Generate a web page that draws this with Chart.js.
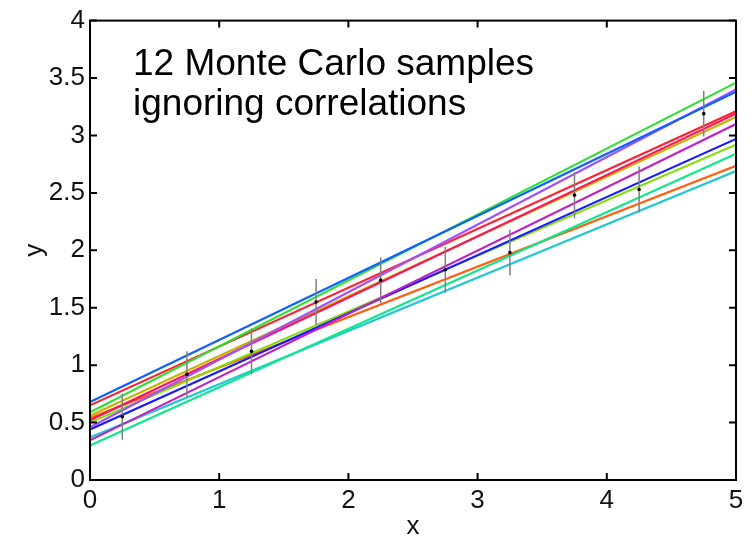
<!DOCTYPE html>
<html>
<head>
<meta charset="utf-8">
<script src="https://cdn.jsdelivr.net/npm/chart.js@4.4.1/dist/chart.umd.min.js"></script>
<style>
  html, body { margin: 0; padding: 0; background: #fff; }
  #wrap { width: 753px; height: 540px; }
</style>
</head>
<body>
<div id="wrap"><canvas id="mcChart"></canvas></div>
<script>
// values
const xTicks = [0, 1, 2, 3, 4, 5];
const yTicks = [0, 0.5, 1, 1.5, 2, 2.5, 3, 3.5, 4];
const lineX = [0, 5];
const sampleStart = [0.68, 0.59, 0.46, 0.65, 0.52, 0.56, 0.345, 0.44, 0.50, 0.30, 0.54, 0.37];
const sampleEnd   = [3.38, 3.46, 3.40, 3.21, 3.19, 3.16, 3.10, 2.97, 2.92, 2.84, 2.735, 2.69];
const sampleColors = ['#1060ff', '#30e030', '#a050ff', '#ff2030', '#ff1060', '#c8b400',
                      '#c020c8', '#1a1aff', '#80e000', '#10e890', '#ff6010', '#20c8d0'];
const pointX   = [0.25, 0.75, 1.25, 1.75, 2.25, 2.75, 3.25, 3.75, 4.25, 4.75];
const pointY   = [0.55, 0.92, 1.12, 1.55, 1.74, 1.83, 1.98, 2.48, 2.53, 3.19];
const pointErr = [0.2, 0.2, 0.2, 0.2, 0.2, 0.2, 0.2, 0.2, 0.2, 0.2];
const noteLines = ['12 Monte Carlo samples', 'ignoring correlations'];

const FONT = '"Liberation Sans", Arial, Helvetica, sans-serif';

// error bars as one broken line: low, high, gap
const errData = [];
pointX.forEach((x, i) => {
  errData.push({ x: x, y: pointY[i] - pointErr[i] });
  errData.push({ x: x, y: pointY[i] + pointErr[i] });
  errData.push({ x: x, y: null });
});

const datasets = [
  {
    data: pointX.map((x, i) => ({ x: x, y: pointY[i] })),
    showLine: false,
    pointRadius: 1.8,
    pointBackgroundColor: '#000',
    pointBorderWidth: 0
  },
  {
    data: errData,
    showLine: true,
    spanGaps: false,
    borderColor: '#808080',
    borderWidth: 1.5,
    pointRadius: 0
  }
];
sampleStart.forEach((s, i) => {
  datasets.push({
    data: [{ x: lineX[0], y: s }, { x: lineX[1], y: sampleEnd[i] }],
    showLine: true,
    borderColor: sampleColors[i],
    borderWidth: 2.2,
    pointRadius: 0
  });
});

// box round the plot with inward ticks on all sides, plus the note
const frame = {
  id: 'frame',
  afterDatasetsDraw(chart) {
    const { ctx, chartArea: a, scales: { x, y } } = chart;
    ctx.save();
    ctx.strokeStyle = '#000';
    ctx.lineWidth = 2;
    ctx.strokeRect(a.left, a.top, a.right - a.left, a.bottom - a.top);
    ctx.beginPath();
    x.ticks.forEach(t => {
      const px = x.getPixelForValue(t.value);
      ctx.moveTo(px, a.bottom); ctx.lineTo(px, a.bottom - 7);
      ctx.moveTo(px, a.top); ctx.lineTo(px, a.top + 7);
    });
    y.ticks.forEach(t => {
      const py = y.getPixelForValue(t.value);
      ctx.moveTo(a.left, py); ctx.lineTo(a.left + 7, py);
      ctx.moveTo(a.right, py); ctx.lineTo(a.right - 7, py);
    });
    ctx.stroke();

    ctx.fillStyle = '#000';
    ctx.font = '37px ' + FONT;
    ctx.textAlign = 'left';
    ctx.textBaseline = 'alphabetic';
    ctx.fillText(noteLines[0], 133, 75);
    ctx.fillText(noteLines[1], 133, 115);
    ctx.restore();
  }
};

new Chart(document.getElementById('mcChart'), {
  type: 'scatter',
  data: { datasets: datasets },
  options: {
    responsive: true,
    maintainAspectRatio: false,
    animation: false,
    layout: { padding: { left: 0, right: 17, top: 16, bottom: 0 } },
    plugins: { legend: { display: false }, tooltip: { enabled: false } },
    scales: {
      x: {
        type: 'linear',
        min: 0,
        max: 5,
        afterBuildTicks: s => { s.ticks = xTicks.map(v => ({ value: v })); },
        afterFit: s => { s.height = 60; },
        grid: { display: false, drawTicks: false },
        border: { display: false },
        ticks: { color: '#111', padding: 5, font: { family: FONT, size: 26 },
                 callback: v => String(v) },
        title: { display: true, text: 'x', color: '#111', padding: 0,
                 font: { family: FONT, size: 26, lineHeight: 1 } }
      },
      y: {
        type: 'linear',
        min: 0,
        max: 4,
        afterBuildTicks: s => { s.ticks = yTicks.map(v => ({ value: v })); },
        afterFit: s => { s.width = 90; },
        grid: { display: false, drawTicks: false },
        border: { display: false },
        ticks: { color: '#111', padding: 5, font: { family: FONT, size: 26 },
                 callback: v => String(v) },
        title: { display: true, text: 'y', color: '#111', padding: { top: 22, bottom: 0 },
                 font: { family: FONT, size: 26, lineHeight: 1 } }
      }
    }
  },
  plugins: [frame]
});
</script>
</body>
</html>
